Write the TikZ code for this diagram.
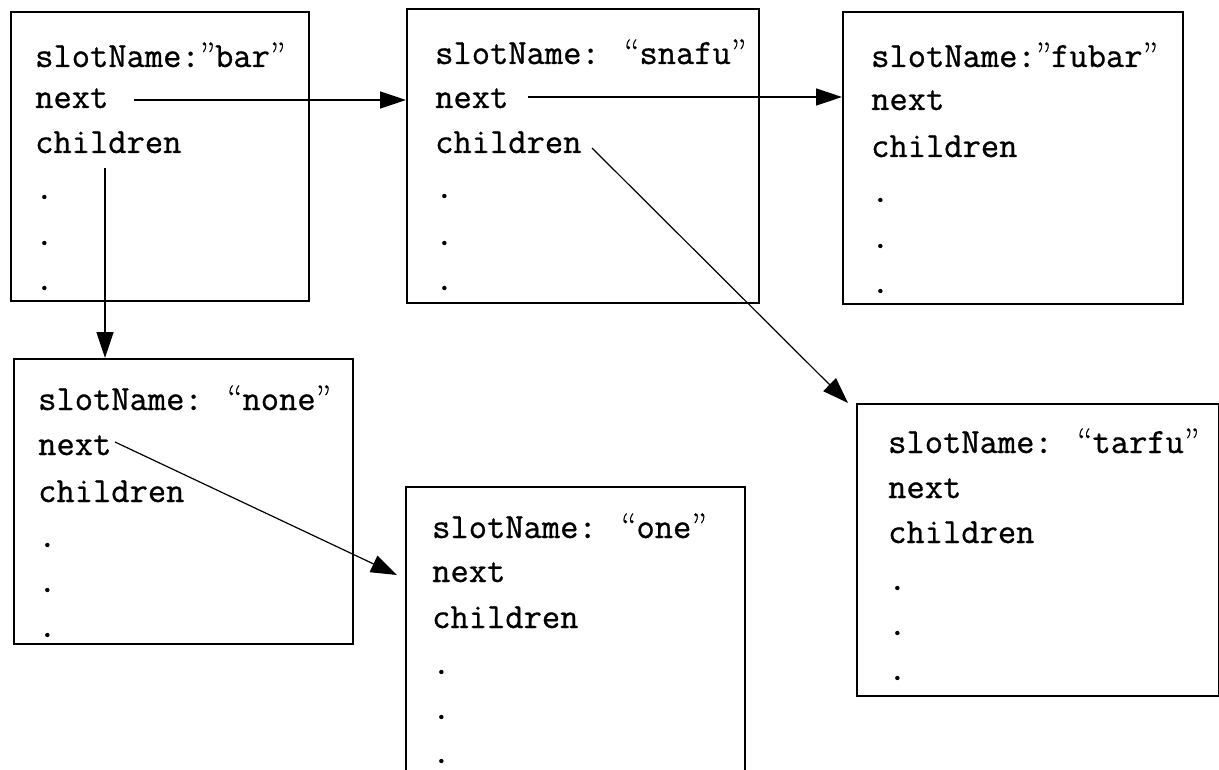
\documentclass[tikz,border=0pt]{standalone}
\usepackage{fontspec}
\newfontfamily\slotfont{Latin Modern Mono}[FakeBold=0.8]
\newfontfamily\slotqfont{Latin Modern Roman}[FakeBold=0.8]
\newcommand\slotlq{{\slotqfont “}}
\newcommand\slotrq{{\slotqfont ”}}
\usetikzlibrary{arrows.meta,calc}
\tikzset{
  objbox/.style={draw=black, line width=2pt, rectangle, anchor=north west, inner sep=0pt},
  slottxt/.style={anchor=base west, inner sep=0pt, font=\slotfont\fontsize{35.5}{36}\selectfont},
  ptr/.style={draw=black, line width=1.6pt, -{Triangle[length=26pt,width=17pt]}},
  thinptr/.style={draw=black, line width=1.2pt, -{Triangle[length=26pt,width=18pt]}}
}
\begin{document}
\begin{tikzpicture}[x=1pt,y=-1pt]
\useasboundingbox (0,0) rectangle (1219,770);
\clip (0,0) rectangle (1219,770);
% boxes
\node[objbox, minimum width=298pt, minimum height=289pt] (bar) at (10,11) {};
\node[objbox, minimum width=352pt, minimum height=294pt] (snafu) at (406,8) {};
\node[objbox, minimum width=340pt, minimum height=292pt] (fubar) at (842,11) {};
\node[objbox, minimum width=339pt, minimum height=285pt] (none) at (13,358) {};
\node[objbox, minimum width=339pt, minimum height=310pt] (one) at (405,486) {};
\node[objbox, minimum width=362pt, minimum height=292pt] (tarfu) at (856,403) {};
% bar
\node[slottxt] (bar-s) at (35,67) {slotName:\slotrq bar\slotrq};
\node[slottxt] (bar-n) at (35,108) {next};
\node[slottxt] (bar-c) at (35,153) {children};
\node[slottxt] (bar-d1) at (35,199) {.};
\node[slottxt] (bar-d2) at (35,245) {.};
\node[slottxt] (bar-d3) at (35,290) {.};
% snafu
\node[slottxt] (snafu-s) at (435,64) {slotName: \slotlq snafu\slotrq};
\node[slottxt] (snafu-n) at (435,108) {next};
\node[slottxt] (snafu-c) at (435,153) {children};
\node[slottxt] (snafu-d1) at (435,198) {.};
\node[slottxt] (snafu-d2) at (435,245) {.};
\node[slottxt] (snafu-d3) at (435,290) {.};
% fubar
\node[slottxt] (fubar-s) at (871,67) {slotName:\slotrq fubar\slotrq};
\node[slottxt] (fubar-n) at (871,110) {next};
\node[slottxt] (fubar-c) at (871,157) {children};
\node[slottxt] (fubar-d1) at (871,202) {.};
\node[slottxt] (fubar-d2) at (871,248) {.};
\node[slottxt] (fubar-d3) at (871,293) {.};
% none
\node[slottxt] (none-s) at (38,410) {slotName: \slotlq none\slotrq};
\node[slottxt] (none-n) at (38,455) {next};
\node[slottxt] (none-c) at (38,502) {children};
\node[slottxt] (none-d1) at (38,547) {.};
\node[slottxt] (none-d2) at (38,592) {.};
\node[slottxt] (none-d3) at (38,637) {.};
% one
\node[slottxt] (one-s) at (432,538) {slotName: \slotlq one\slotrq};
\node[slottxt] (one-n) at (432,582) {next};
\node[slottxt] (one-c) at (432,628) {children};
\node[slottxt] (one-d1) at (432,674) {.};
\node[slottxt] (one-d2) at (432,719) {.};
\node[slottxt] (one-d3) at (432,763) {.};
% tarfu
\node[slottxt] (tarfu-s) at (888,453) {slotName: \slotlq tarfu\slotrq};
\node[slottxt] (tarfu-n) at (888,498) {next};
\node[slottxt] (tarfu-c) at (888,543) {children};
\node[slottxt] (tarfu-d1) at (888,590) {.};
\node[slottxt] (tarfu-d2) at (888,635) {.};
\node[slottxt] (tarfu-d3) at (888,680) {.};
% connectors
\coordinate (a1) at (134,100);
\coordinate (a2) at (528,97);
\coordinate (a3) at (105,168);
\coordinate (a4) at (592,148);
\coordinate (t4) at (848,403);
\coordinate (a5) at (115,442);
\coordinate (t5) at (397,575);
\draw[ptr] (a1) -- (a1 -| snafu.west);
\draw[ptr] (a2) -- (a2 -| fubar.west);
\draw[ptr] (a3) -- (a3 |- none.north);
\draw[thinptr] (a4) -- (t4);
\draw[thinptr] (a5) -- (t5);
\end{tikzpicture}
\end{document}
